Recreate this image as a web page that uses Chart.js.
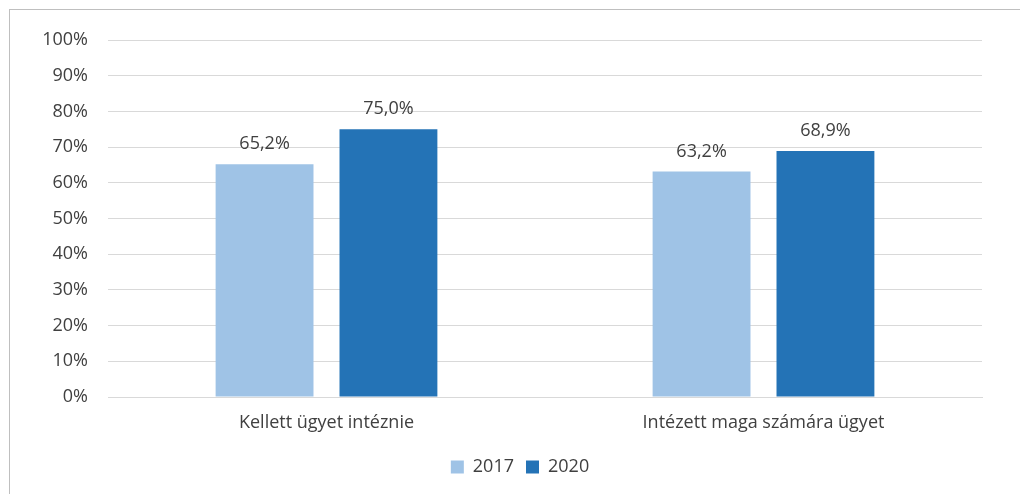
<!DOCTYPE html>
<html>
<head>
<meta charset="utf-8">
<script src="https://cdn.jsdelivr.net/npm/chart.js@4/dist/chart.umd.min.js"></script>
<style>
  html, body { margin: 0; padding: 0; background: #fff; }
  #wrap { position: relative; width: 1020px; height: 494px; }
  #frame { position: absolute; left: 9px; top: 9px; width: 1040px; height: 520px;
           border-left: 1px solid #bfbfbf; border-top: 1px solid #bfbfbf; }
  canvas { position: absolute; left: 0; top: 0; }
</style>
</head>
<body>
<div id="wrap">
  <div id="frame"></div>
  <canvas id="myBars" width="1020" height="494"></canvas>
</div>
<script>
const categories = ["Kellett ügyet intéznie", "Intézett maga számára ügyet"];
const years = ["2017", "2020"];
const values2017 = [65.2, 63.2];
const values2020 = [75.0, 68.9];
const yTicks = [0, 10, 20, 30, 40, 50, 60, 70, 80, 90, 100];

const textColor = "#404040";
const fontFamily = "'Open Sans', sans-serif";
const fontSize = 18;

// prints "65,2%" style values above each bar
const valueLabels = {
    id: "valueLabels",
    afterDatasetsDraw(chart) {
        const ctx = chart.ctx;
        ctx.save();
        ctx.font = fontSize + "px " + fontFamily;
        ctx.fillStyle = textColor;
        ctx.textAlign = "center";
        ctx.textBaseline = "middle";
        chart.data.datasets.forEach((ds, i) => {
            chart.getDatasetMeta(i).data.forEach((bar, j) => {
                const txt = ds.data[j].toFixed(1).replace(".", ",") + "%";
                ctx.fillText(txt, bar.x, bar.y - 20);
            });
        });
        ctx.restore();
    }
};

// nudge the legend a little right of the canvas middle
const legendShift = {
    id: "legendShift",
    afterLayout(chart) {
        if (chart.legend) {
            chart.legend.left += 24;
            chart.legend.right += 24;
        }
    }
};

new Chart(document.getElementById("myBars"), {
    type: "bar",
    data: {
        labels: categories,
        datasets: [
            { label: years[0], data: values2017, backgroundColor: "#9fc3e6" },
            { label: years[1], data: values2020, backgroundColor: "#2473b6" }
        ]
    },
    options: {
        responsive: false,
        animation: false,
        categoryPercentage: 0.567,
        barPercentage: 0.79,
        layout: { padding: { left: 10, top: 40, right: 38, bottom: 8 } },
        scales: {
            y: {
                min: 0,
                max: 100,
                afterBuildTicks(scale) {
                    scale.ticks = yTicks.map(v => ({ value: v }));
                },
                afterFit(scale) { scale.width = 98; },
                border: { display: false },
                grid: { color: "#d9d9d9", drawTicks: false },
                ticks: {
                    padding: 20,
                    color: textColor,
                    font: { family: fontFamily, size: fontSize },
                    callback: v => v + "%"
                }
            },
            x: {
                afterFit(scale) { scale.height = 49; },
                border: { color: "#d9d9d9" },
                grid: { display: false, drawTicks: false },
                ticks: {
                    padding: 15,
                    color: textColor,
                    font: { family: fontFamily, size: fontSize }
                }
            }
        },
        plugins: {
            legend: {
                position: "bottom",
                labels: {
                    boxWidth: 13,
                    boxHeight: 13,
                    padding: 12,
                    color: textColor,
                    font: { family: fontFamily, size: fontSize }
                }
            },
            tooltip: { enabled: false }
        }
    },
    plugins: [valueLabels, legendShift]
});
</script>
</body>
</html>
